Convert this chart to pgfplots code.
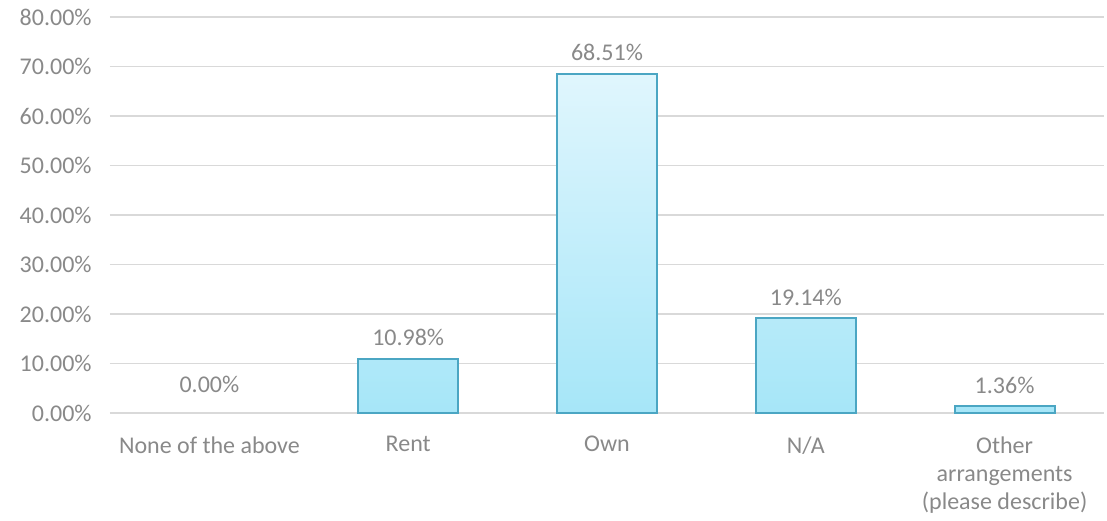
\documentclass[border=0pt]{standalone}
\usepackage{fontspec}
\setmainfont{Carlito}
\usepackage{pgfplots}
\pgfplotsset{compat=1.18}

\definecolor{textgray}{RGB}{137,137,137}
\definecolor{gridgray}{RGB}{217,217,217}
\definecolor{barline}{RGB}{75,166,195}
\definecolor{bartop}{RGB}{224,246,253}
\definecolor{barbottom}{RGB}{166,230,248}

\begin{document}
\fontsize{12}{14}\selectfont
\begin{tikzpicture}
\begin{axis}[
    at={(0,0)}, anchor=south west,
    width=497pt, height=198pt,
    scale only axis,
    ymin=0, ymax=80,
    ytick={0,10,...,80},
    xmin=-0.5, xmax=4.5,
    xtick={0,1,2,3,4},
    xticklabels={None of the above, Rent, Own, N/A, {Other\\arrangements\\(please describe)}},
    x tick label style={align=center, yshift=-7.5pt},
    yticklabel={\pgfmathprintnumber[fixed, fixed zerofill, precision=2]{\tick}\%},
    y tick label style={xshift=-5pt},
    /pgf/number format/assume math mode=true,
    ticklabel style={text=textgray, font=\fontsize{12}{14}\selectfont},
    axis line style={draw=none},
    major tick length=0pt,
    ymajorgrids,
    grid style={gridgray, line width=0.9pt},
    ybar, bar width=50pt, bar shift=0pt,
    nodes near coords={\pgfmathprintnumber[fixed, fixed zerofill, precision=2]{\pgfplotspointmeta}\%},
    nodes near coords style={text=textgray, font=\fontsize{12}{14}\selectfont, yshift=2pt},
    clip=false,
]
% empty category: only its label shows
\addplot[draw=none, fill=none, nodes near coords style={yshift=4pt}]
    coordinates {(0,0)};
\addplot[draw=barline, line width=0.9pt, top color=bartop, bottom color=barbottom]
    coordinates {(1,10.98) (2,68.51) (3,19.14) (4,1.36)};
\end{axis}
\path (-55pt,-50.5pt) rectangle (498.5pt,206.5pt);
\end{tikzpicture}
\end{document}
